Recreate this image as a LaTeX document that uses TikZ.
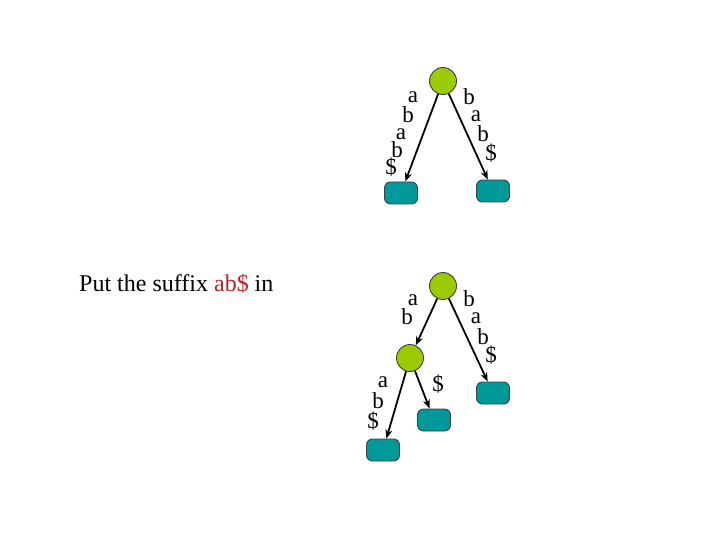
\documentclass[tikz,border=0pt]{standalone}
\usepackage{fontspec}
\setmainfont{Liberation Serif}
\usetikzlibrary{arrows.meta}
\definecolor{nodegreen}{RGB}{153,204,0}
\definecolor{leafteal}{RGB}{0,153,153}
\definecolor{suffixred}{RGB}{192,32,32}
\begin{document}
\begin{tikzpicture}[x=1pt,y=-1pt,
  inner/.style={circle,draw=black!75,line width=0.9pt,fill=nodegreen,minimum size=27pt,inner sep=0pt},
  leaf/.style={rounded corners=6pt,draw=black!75,line width=0.9pt,fill=leafteal,minimum width=33pt,minimum height=22pt,inner sep=0pt},
  edge/.style={line width=1.8pt,-{Stealth[length=9pt,width=7pt]}},
  lbl/.style={font=\fontsize{23}{23}\selectfont,inner sep=0pt}]
\useasboundingbox (0,0) rectangle (720,540);
% text
\node[anchor=base west,font=\fontsize{24}{24}\selectfont,inner sep=0pt] (txt) at (79,291) {Put the suffix \textcolor{suffixred}{ab\$} in};
% top tree
\node[inner] (r1) at (443,81) {};
\node[leaf] (l1a) at (401,193) {};
\node[leaf] (l1b) at (493,191) {};
\draw[edge] (r1) -- (l1a);
\draw[edge] (r1) -- (l1b);
\node[lbl] (t1) at (413,97) {a};
\node[lbl] (t2) at (408,115) {b};
\node[lbl] (t3) at (401,134) {a};
\node[lbl] (t4) at (397,150) {b};
\node[lbl] (t5) at (391,167) {\$};
\node[lbl] (t6) at (469,97) {b};
\node[lbl] (t7) at (476,116) {a};
\node[lbl] (t8) at (483,134) {b};
\node[lbl] (t9) at (491,153) {\$};
% bottom tree
\node[inner] (r2) at (443,286) {};
\node[inner] (m2) at (410,358) {};
\node[leaf] (l2a) at (383,450) {};
\node[leaf] (l2b) at (434,420) {};
\node[leaf] (l2c) at (493,393) {};
\draw[edge] (r2) -- (m2);
\draw[edge] (r2) -- (l2c);
\draw[edge] (m2) -- (l2a);
\draw[edge] (m2) -- (l2b);
\node[lbl] (b1) at (413,300) {a};
\node[lbl] (b2) at (407,317) {b};
\node[lbl] (b3) at (469,299) {b};
\node[lbl] (b4) at (476,318) {a};
\node[lbl] (b5) at (483,337) {b};
\node[lbl] (b6) at (491,355) {\$};
\node[lbl] (b7) at (383,382) {a};
\node[lbl] (b8) at (378,401) {b};
\node[lbl] (b9) at (373,421) {\$};
\node[lbl] (b10) at (438,384) {\$};
\end{tikzpicture}
\end{document}
